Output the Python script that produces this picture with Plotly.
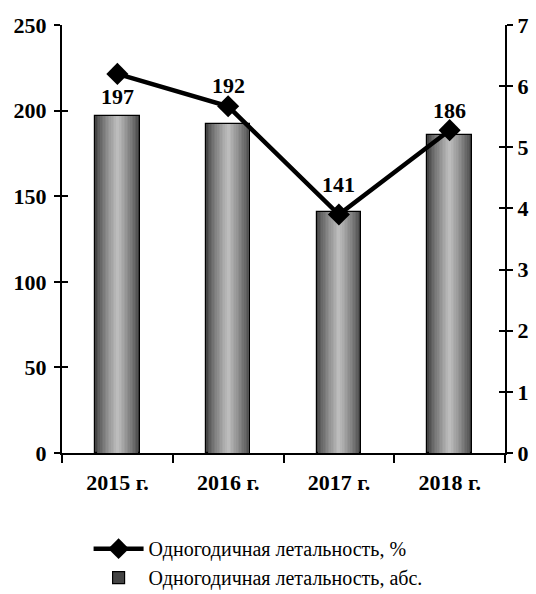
import plotly.graph_objects as go

# Data
years = ["2015 г.", "2016 г.", "2017 г.", "2018 г."]
deaths_abs = [197, 192, 141, 186]
deaths_pct = [6.2, 5.67, 3.9, 5.28]
label_shift = [19, 39, 27, 24]

left_ticks = [0, 50, 100, 150, 200, 250]
right_ticks = [0, 1, 2, 3, 4, 5, 6, 7]

FONT = "Liberation Serif"
BAR_W = 0.4
N_LAYERS = 14

fig = go.Figure()

# Cylinder-like shading: nested bars, narrowing and lightening toward the centre
for i in range(N_LAYERS):
    t = i / (N_LAYERS - 1)
    g = int(68 + (188 - 68) * t ** 0.8)
    w = BAR_W * (1 - i / N_LAYERS)
    fig.add_trace(go.Bar(
        x=years, y=deaths_abs, width=w,
        marker=dict(color=f"rgb({g},{g},{g})",
                    line=dict(color="black", width=1.2 if i == 0 else 0)),
        name="Одногодичная летальность, абс.",
        showlegend=(i == 0), legendrank=2,
        hoverinfo="skip" if i else None,
        yaxis="y",
    ))

fig.add_trace(go.Scatter(
    x=years, y=deaths_pct, mode="lines+markers",
    line=dict(color="black", width=4.5),
    marker=dict(symbol="diamond", size=17, color="black"),
    name="Одногодичная летальность, %",
    legendrank=1,
    yaxis="y2",
))

for yr, v, s in zip(years, deaths_abs, label_shift):
    fig.add_annotation(x=yr, y=v, yref="y", text=f"<b>{v}</b>", showarrow=False,
                       yanchor="middle", yshift=s,
                       font=dict(family=FONT, size=22, color="black"))

axis_font = dict(family=FONT, size=22, color="black")

fig.update_layout(
    width=536, height=594,
    margin=dict(l=62, r=31, t=25, b=141, autoexpand=False),
    paper_bgcolor="white", plot_bgcolor="white",
    barmode="overlay", bargap=0,
    showlegend=True,
    legend=dict(x=0.06, y=-0.178, xanchor="left", yanchor="top",
                font=dict(family=FONT, size=20, color="black"),
                tracegroupgap=4, itemwidth=50),
    xaxis=dict(type="category", showline=True, linecolor="black", linewidth=2,
               ticks="outside", ticklen=8, tickwidth=2, tickcolor="black",
               tickson="boundaries", showgrid=False, automargin=False,
               ticklabelstandoff=9,
               tickfont=axis_font, tickprefix="<b>", ticksuffix="</b>"),
    yaxis=dict(range=[0, 250], tickvals=left_ticks,
               ticktext=[f"<b>{v}</b>" for v in left_ticks],
               showline=True, linecolor="black", linewidth=2,
               ticks="outside", ticklen=6, tickwidth=2, tickcolor="black", automargin=False,
               showgrid=False, zeroline=False, tickfont=axis_font, ticklabelstandoff=3),
    yaxis2=dict(range=[0, 7], tickvals=right_ticks,
                ticktext=[f"<b>{v}</b>" for v in right_ticks],
                overlaying="y", side="right", automargin=False,
                showline=True, linecolor="black", linewidth=2,
                ticks="outside", ticklen=6, tickwidth=2, tickcolor="black",
                showgrid=False, zeroline=False, tickfont=axis_font, ticklabelstandoff=0),
    # inner halves of the tick marks so they cross the axis lines
    yaxis3=dict(range=[0, 250], tickvals=left_ticks, overlaying="y", side="left",
                ticks="inside", ticklen=6, tickwidth=2, tickcolor="black", automargin=False,
                showticklabels=False, showgrid=False, zeroline=False, showline=False),
    yaxis4=dict(range=[0, 7], tickvals=right_ticks, overlaying="y", side="right",
                ticks="inside", ticklen=6, tickwidth=2, tickcolor="black", automargin=False,
                showticklabels=False, showgrid=False, zeroline=False, showline=False),
)

# empty traces that bind the extra tick axes
fig.add_trace(go.Scatter(x=[years[0]], y=[None], yaxis="y3", showlegend=False, hoverinfo="skip"))
fig.add_trace(go.Scatter(x=[years[0]], y=[None], yaxis="y4", showlegend=False, hoverinfo="skip"))

fig.write_html("out.html")
